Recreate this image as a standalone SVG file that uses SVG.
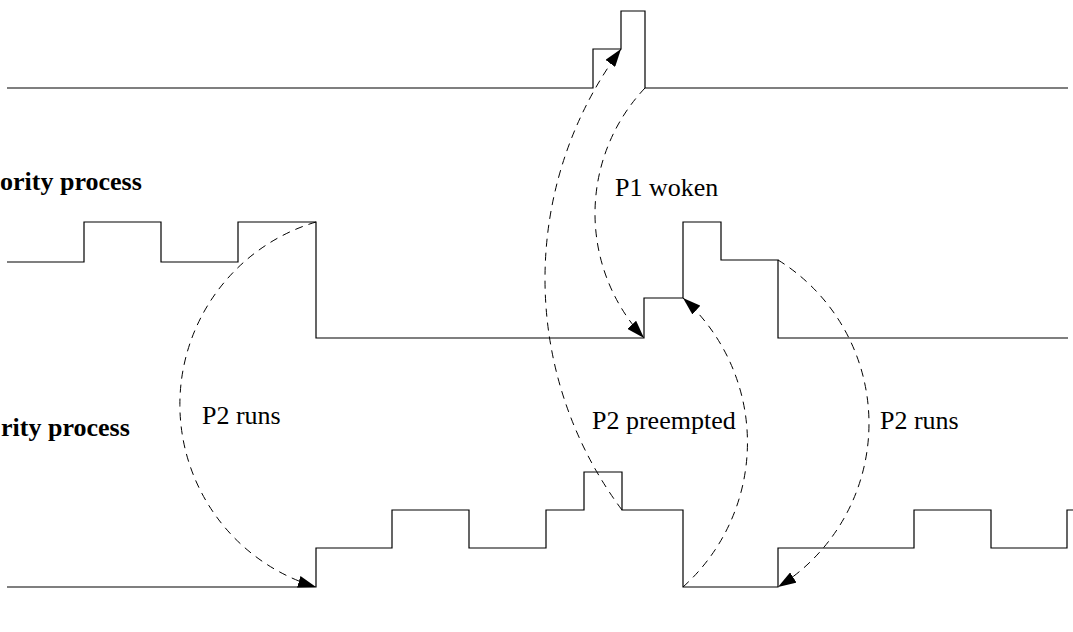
<svg xmlns="http://www.w3.org/2000/svg" width="1073" height="632" viewBox="0 0 1073 632">
  <style>
    .wave { fill: none; stroke: #000; stroke-width: 1.2; }
    .arc { fill: none; stroke: #000; stroke-width: 1; stroke-dasharray: 8 6; }
    .lbl { font-family: "Liberation Serif", "Times New Roman", serif; font-size: 26px; fill: #000; }
    .name { font-family: "Liberation Serif", "Times New Roman", serif; font-size: 26px; font-weight: bold; fill: #000; }
  </style>
  <defs>
    <marker id="head" viewBox="0 0 18 12" refX="18" refY="6" markerWidth="18" markerHeight="12" markerUnits="userSpaceOnUse" orient="auto">
      <path d="M0,0 L18,6 L0,12 Z" fill="#000"/>
    </marker>
  </defs>
  <rect width="1073" height="632" fill="#fff"/>

  <!-- interrupt / wake-up line -->
  <g id="wake-line">
    <polyline class="wave" points="7,88 593,88 593,49 621,49 621,11 645,11 645,88 1068,88"/>
  </g>

  <!-- P1: higher priority process -->
  <g id="p1">
    <text class="name" x="0" y="190">ority process</text>
    <polyline class="wave" points="7,262 84,262 84,222 161,222 161,262 238,262 238,222 316,222 316,338 644,338 644,298 683,298 683,222 721,222 721,260 778,260 778,338 1068,338"/>
  </g>

  <!-- P2: lower priority process -->
  <g id="p2">
    <text class="name" x="1" y="436">rity process</text>
    <polyline class="wave" points="7,587 316,587 316,548 392,548 392,510 469,510 469,548 546,548 546,510 584,510 584,472 622,472 622,510 683,510 683,587 778,587 778,548 914,548 914,510 991,510 991,548 1067,548 1067,510 1073,510"/>
  </g>

  <!-- transitions between the processes -->
  <g id="connectors">
    <path class="arc" d="M316,222 A190.4,190.4 0 0 0 316,587" marker-end="url(#head)"/>
    <path class="arc" d="M622,510 A385.5,385.5 0 0 1 621,49" marker-end="url(#head)"/>
    <path class="arc" d="M645,88 A182.6,182.6 0 0 0 644,338" marker-end="url(#head)"/>
    <path class="arc" d="M683,587 A194.2,194.2 0 0 0 683,298" marker-end="url(#head)"/>
    <path class="arc" d="M778,260 A192.4,192.4 0 0 1 778,587" marker-end="url(#head)"/>
  </g>

  <g id="labels">
    <text class="lbl" x="202" y="424">P2 runs</text>
    <text class="lbl" x="615" y="196">P1 woken</text>
    <text class="lbl" x="592" y="429">P2 preempted</text>
    <text class="lbl" x="880" y="429">P2 runs</text>
  </g>
</svg>
